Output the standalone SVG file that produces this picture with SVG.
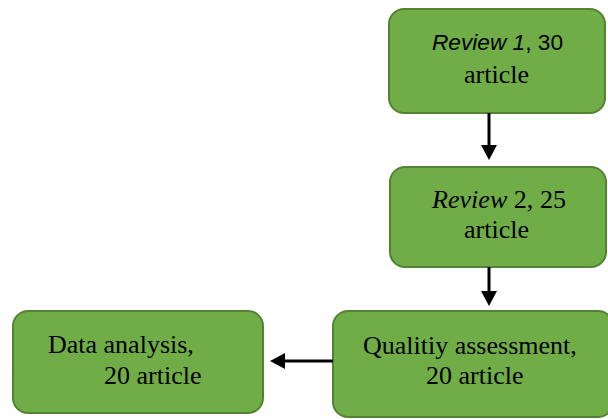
<svg xmlns="http://www.w3.org/2000/svg" width="608" height="419" viewBox="0 0 608 419">
<style>
.box{fill:#70AD47;stroke:#548235;stroke-width:2}
.t{font-family:"Liberation Serif","Times New Roman",serif;font-size:26px;fill:#000}
.s{font-family:"Liberation Sans",Arial,sans-serif;font-size:22px;fill:#000}
.c{stroke:#000;stroke-width:3;fill:none}
.h{fill:#000;stroke:none}
</style>
<rect width="608" height="419" fill="#fff"/>
<g id="review1">
<rect class="box" x="389" y="9" width="216" height="104" rx="15"/>
<text class="s" x="432" y="50" textLength="131" lengthAdjust="spacingAndGlyphs"><tspan font-style="italic">Review 1</tspan>, 30</text>
<text class="t" x="464" y="83">article</text>
</g>
<g id="review2">
<rect class="box" x="390" y="167" width="216" height="100" rx="15"/>
<text class="t" x="432" y="208" textLength="134" lengthAdjust="spacingAndGlyphs"><tspan font-style="italic">Review</tspan> 2, 25</text>
<text class="t" x="464" y="238">article</text>
</g>
<g id="quality">
<rect class="box" x="333" y="311" width="280" height="106" rx="15"/>
<text class="t" x="363" y="354">Qualitiy assessment,</text>
<text class="t" x="426" y="384">20 article</text>
</g>
<g id="analysis">
<rect class="box" x="13" y="311" width="250" height="102" rx="15"/>
<text class="t" x="48" y="353">Data analysis,</text>
<text class="t" x="104" y="384">20 article</text>
</g>
<g id="connectors">
<line class="c" x1="489" y1="113" x2="489" y2="146"/>
<polygon class="h" points="481,145 497,145 489,160"/>
<line class="c" x1="489" y1="267" x2="489" y2="292"/>
<polygon class="h" points="481,291 497,291 489,306"/>
<line class="c" x1="333" y1="361" x2="283" y2="361"/>
<polygon class="h" points="285,353 285,369 270,361"/>
</g>
</svg>
